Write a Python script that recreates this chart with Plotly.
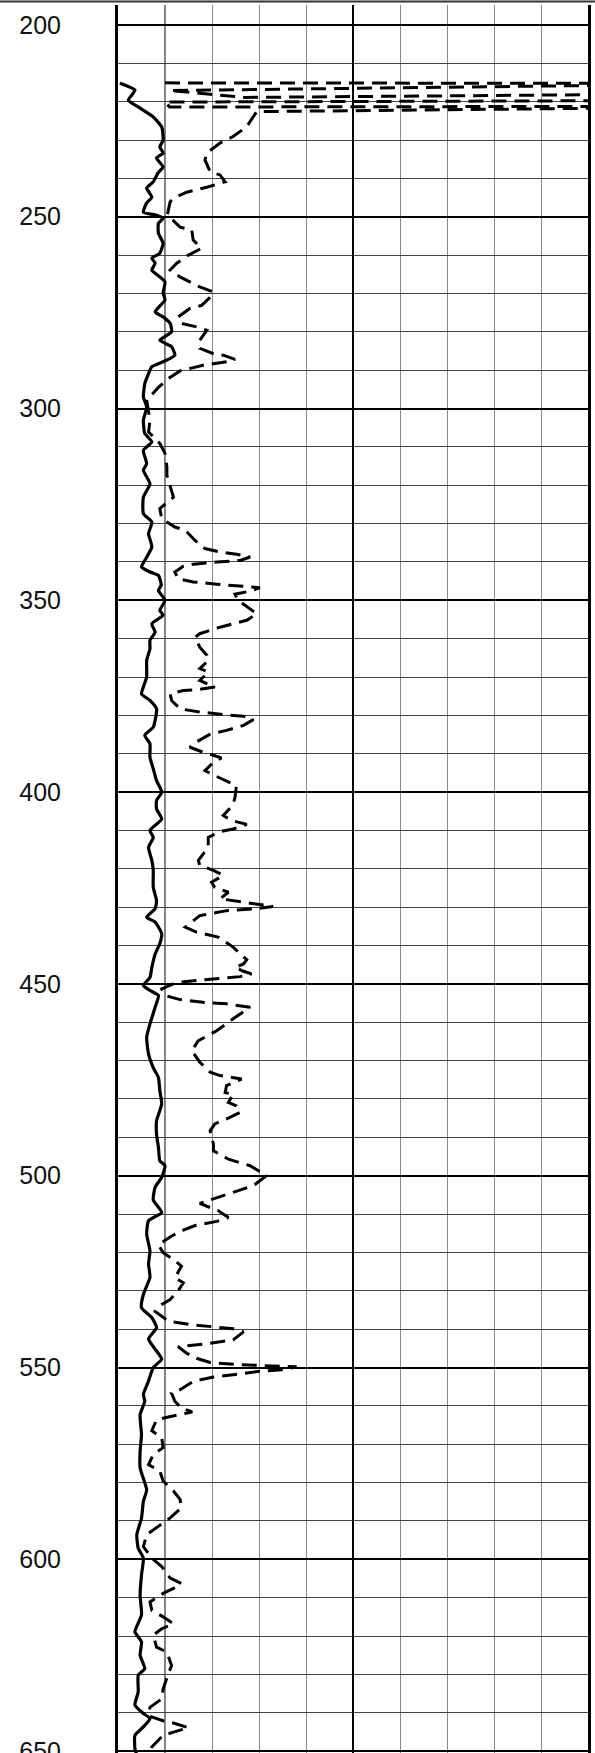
import plotly.graph_objects as go

# ---- Solid curve (depth, value in chart divisions 0-10) ----
solid_depth = [215.2, 217.0, 219.6, 221.7, 224.0, 226.6, 230.0, 231.8, 233.4, 234.7, 237.0, 238.6,
               240.9, 242.5, 244.9, 246.4, 248.8, 249.6, 250.4, 251.7, 254.3, 256.9, 259.5, 260.8,
               262.1, 263.9, 265.7, 267.0, 269.9, 271.7, 274.8, 276.1, 277.8, 280.0, 282.2, 283.9,
               286.1, 287.8, 289.1, 290.9, 293.5, 297.0, 299.6, 303.1, 306.5, 308.7, 310.9, 314.4,
               316.1, 319.6, 323.1, 327.4, 329.6, 332.6, 336.1, 339.6, 341.3, 342.6, 343.5, 346.0,
               347.4, 350.0, 352.6, 353.9, 356.1, 358.3, 360.4, 362.6, 365.7, 370.0, 372.6, 374.4,
               376.1, 378.3, 381.3, 383.1, 385.2, 387.4, 390.9, 393.9, 397.0, 400.0, 402.2, 404.4,
               407.0, 410.0, 411.8, 414.4, 417.8, 420.4, 424.8, 428.3, 430.4, 432.6, 433.9, 436.9,
               439.5, 442.2, 445.7, 448.3, 450.4, 451.7, 453.0, 456.1, 460.4, 463.9, 468.3, 471.8,
               474.4, 477.8, 481.3, 485.7, 489.2, 492.6, 496.1, 497.4, 500.4, 503.0, 506.3, 509.6,
               511.7, 515.2, 519.6, 523.0, 526.5, 530.9, 534.4, 537.0, 539.6, 542.6, 545.7, 547.8,
               550.0, 553.5, 557.0, 558.8, 562.3, 567.5, 571.9, 576.2, 581.9, 584.9, 589.3, 593.6,
               597.1, 599.7, 604.1, 609.3, 614.5, 618.9, 621.5, 625.0, 628.5, 630.2, 634.6, 638.0,
               640.2, 641.5, 643.7, 645.9, 649.3, 651.0]
solid_value = [0.04, 0.36, 0.22, 0.47, 0.75, 0.93, 0.96, 0.89, 0.96, 0.82, 0.96, 0.85,
               0.75, 0.61, 0.72, 0.61, 0.54, 0.82, 0.96, 0.86, 0.86, 0.96, 0.89, 0.72,
               0.79, 0.72, 0.89, 1.00, 0.96, 1.00, 0.79, 0.96, 1.11, 1.14, 0.89, 1.14,
               1.21, 0.96, 0.72, 0.65, 0.57, 0.54, 0.61, 0.54, 0.57, 0.72, 0.54, 0.61,
               0.54, 0.68, 0.54, 0.54, 0.72, 0.65, 0.72, 0.57, 0.50, 0.68, 0.86, 0.92,
               0.86, 1.00, 0.89, 0.96, 0.72, 0.79, 0.68, 0.68, 0.61, 0.61, 0.54, 0.50,
               0.68, 0.82, 0.79, 0.75, 0.57, 0.68, 0.68, 0.75, 0.82, 0.93, 0.82, 0.82,
               0.93, 0.68, 0.75, 0.65, 0.72, 0.75, 0.75, 0.82, 0.79, 0.61, 0.79, 0.93,
               0.89, 0.79, 0.72, 0.68, 0.54, 0.68, 0.86, 0.79, 0.68, 0.61, 0.65, 0.75,
               0.86, 0.89, 0.93, 0.82, 0.82, 0.86, 0.89, 1.00, 0.93, 0.79, 0.75, 0.93,
               0.65, 0.61, 0.68, 0.65, 0.68, 0.54, 0.50, 0.72, 0.82, 0.65, 0.82, 0.93,
               0.75, 0.65, 0.54, 0.57, 0.47, 0.50, 0.47, 0.47, 0.61, 0.54, 0.50, 0.40,
               0.43, 0.54, 0.50, 0.47, 0.50, 0.36, 0.50, 0.47, 0.57, 0.43, 0.43, 0.36,
               0.54, 0.68, 0.54, 0.36, 0.36, 0.40]

# ---- Dashed curve (depth, value in chart divisions 0-10; >10 is off scale) ----
dashed_depth = [215.1, 215.25, 215.5, 217.1, 218.9, 218.0, 219.7, 220.1, 221.4, 221.2, 221.5, 222.6,
                226.5, 229.1, 230.8, 233.4, 235.2, 238.3, 239.1, 240.9, 242.3, 243.6, 245.2, 246.1,
                249.5, 252.7, 253.5, 256.1, 258.2, 260.0, 262.1, 263.9, 265.7, 268.3, 269.6, 271.0,
                273.1, 273.9, 276.1, 277.8, 278.7, 279.6, 282.2, 284.3, 285.7, 286.1, 287.2, 287.8,
                288.7, 290.2, 292.2, 294.5, 297.8, 303.1, 306.1, 309.1, 311.7, 315.2, 317.4, 321.3,
                323.1, 326.1, 328.7, 330.9, 331.7, 334.4, 336.5, 337.4, 338.0, 338.7, 339.6, 340.0,
                340.6, 341.1, 342.6, 344.4, 345.2, 345.8, 346.3, 346.7, 347.6, 348.4, 350.0, 353.5,
                355.2, 357.0, 358.7, 359.6, 362.2, 364.3, 365.7, 367.8, 368.7, 370.9, 372.6, 373.3,
                373.5, 374.4, 376.1, 378.3, 379.1, 379.8, 380.2, 381.1, 382.6, 383.9, 384.9, 386.9,
                388.3, 389.6, 390.4, 391.1, 392.2, 394.4, 395.7, 397.4, 398.3, 401.3, 403.3, 406.1,
                407.4, 408.4, 409.6, 410.3, 411.8, 414.4, 417.8, 419.1, 420.4, 421.7, 423.5, 424.8,
                426.1, 427.8, 428.7, 429.1, 429.8, 430.4, 430.9, 432.2, 435.2, 436.5, 437.1, 437.8,
                438.7, 440.4, 441.7, 443.7, 444.8, 445.7, 446.7, 447.4, 448.1, 448.7, 449.1, 449.6,
                451.3, 453.0, 454.1, 454.8, 455.2, 456.1, 459.1, 462.2, 464.8, 467.4, 470.4, 473.0,
                473.9, 474.8, 476.5, 478.3, 478.7, 480.9, 481.8, 483.5, 484.8, 486.5, 488.3, 491.7,
                493.5, 495.7, 497.4, 500.0, 502.6, 504.3, 505.2, 507.2, 508.3, 509.1, 510.9, 511.9,
                513.0, 514.2, 515.7, 518.0, 520.1, 521.8, 523.6, 526.6, 527.9, 530.0, 532.3, 534.1,
                535.4, 537.9, 538.8, 539.4, 539.9, 540.7, 542.8, 543.7, 544.6, 546.3, 547.6, 548.7,
                549.2, 549.5, 549.8, 550.6, 551.0, 551.9, 552.5, 553.6, 555.8, 556.7, 558.8, 560.6,
                561.6, 562.9, 563.6, 566.5, 568.3, 570.9, 572.7, 575.3, 577.0, 579.6, 582.2, 584.4,
                586.6, 589.2, 591.4, 593.6, 596.7, 599.7, 601.9, 604.9, 606.3, 607.6, 608.9, 611.1,
                613.3, 615.0, 616.8, 618.1, 619.8, 622.9, 624.2, 627.7, 629.9, 633.8, 636.4, 638.6,
                640.8, 642.1, 642.8, 643.9, 644.8, 645.9, 648.9, 650.2, 651.0]
dashed_value = [1.00, 12.0, 12.0, 1.10, 2.70, 12.0, 12.0, 1.00, 1.10, 12.0, 12.0, 2.95,
                2.74, 2.45, 2.17, 1.89, 1.85, 1.96, 2.17, 2.28, 1.89, 1.46, 1.18, 1.11,
                1.05, 1.32, 1.57, 1.60, 1.78, 1.50, 1.25, 1.11, 1.32, 1.74, 2.03, 1.96,
                1.78, 1.53, 1.28, 1.35, 1.67, 1.89, 1.74, 1.74, 2.03, 2.24, 2.49, 2.31,
                1.81, 1.32, 1.07, 0.86, 0.61, 0.68, 0.65, 0.89, 1.00, 1.04, 1.04, 1.14,
                1.18, 0.89, 0.93, 1.21, 1.43, 1.64, 1.85, 2.17, 2.52, 2.81, 2.60, 2.10,
                1.60, 1.39, 1.21, 1.28, 1.60, 2.10, 2.60, 3.02, 2.81, 2.49, 2.56, 2.95,
                2.74, 2.17, 1.74, 1.64, 1.74, 1.89, 1.92, 1.74, 1.92, 1.74, 2.06, 1.67,
                1.39, 1.11, 1.14, 1.32, 1.74, 2.24, 2.67, 2.88, 2.67, 2.31, 1.96, 1.67,
                1.53, 1.81, 2.03, 2.20, 2.03, 1.85, 2.06, 2.35, 2.52, 2.49, 2.45, 2.24,
                2.42, 2.74, 2.45, 2.17, 1.92, 1.92, 1.71, 1.74, 2.03, 2.24, 1.99, 2.06,
                2.35, 2.17, 2.67, 2.95, 3.30, 2.95, 2.31, 1.74, 1.43, 1.67, 1.89, 2.13,
                2.24, 2.45, 2.56, 2.74, 2.67, 2.49, 2.67, 2.84, 2.60, 2.10, 1.67, 1.25,
                0.93, 1.00, 1.32, 1.81, 2.31, 2.81, 2.45, 2.10, 1.71, 1.57, 1.74, 1.96,
                2.17, 2.63, 2.31, 2.28, 2.45, 2.35, 2.52, 2.60, 2.38, 2.06, 1.96, 2.03,
                2.03, 2.35, 2.81, 3.16, 2.88, 2.45, 2.24, 1.74, 1.96, 2.13, 2.35, 2.10,
                1.64, 1.39, 1.14, 0.86, 0.96, 1.18, 1.35, 1.21, 1.39, 1.28, 1.11, 0.86,
                0.79, 1.07, 1.53, 2.03, 2.45, 2.67, 2.45, 1.96, 1.28, 1.46, 1.67, 1.96,
                2.52, 3.09, 3.80, 3.52, 3.02, 2.45, 2.03, 1.60, 1.32, 1.14, 1.21, 1.35,
                1.58, 1.07, 0.82, 0.72, 0.93, 0.96, 0.75, 0.65, 0.89, 0.96, 1.18, 1.32,
                1.35, 1.11, 0.86, 0.61, 0.54, 0.72, 0.93, 1.11, 1.35, 1.18, 0.96, 0.68,
                0.72, 0.96, 1.18, 0.93, 0.75, 0.82, 1.04, 1.14, 1.07, 0.96, 0.93, 0.68,
                0.65, 0.96, 1.21, 1.50, 1.25, 0.96, 0.72, 0.65, 0.62]

depth_ticks = [200, 250, 300, 350, 400, 450, 500, 550, 600, 650]
depth_range = [650.5, 194.8]
value_range = [0, 10]

fig = go.Figure()
fig.add_trace(go.Scatter(x=solid_value, y=solid_depth, mode="lines",
                         line=dict(color="black", width=3.2, shape="spline", smoothing=0.5),
                         hoverinfo="skip", showlegend=False))
fig.add_trace(go.Scatter(x=dashed_value, y=dashed_depth, mode="lines",
                         line=dict(color="black", width=3.0, dash="15px,8px"),
                         hoverinfo="skip", showlegend=False))

# dark line at first division
fig.add_shape(type="line", xref="x", yref="paper", x0=1, x1=1, y0=0, y1=1,
              line=dict(color="black", width=1), layer="below")
# top border
fig.add_shape(type="line", xref="paper", yref="paper", x0=-0.26, x1=1.02,
              y0=1.002, y1=1.002, line=dict(color="#333", width=2))

fig.update_layout(
    template="none",
    width=595, height=1753,
    margin=dict(l=118, r=7, t=5, b=0, autoexpand=False),
    paper_bgcolor="white", plot_bgcolor="white",
    showlegend=False,
    xaxis=dict(range=value_range, showticklabels=False, ticks="", automargin=False,
               dtick=5, tick0=0, showgrid=True, gridcolor="black", gridwidth=2,
               minor=dict(dtick=1, showgrid=True, gridcolor="#8a8a8a", gridwidth=1),
               zeroline=False, showline=False, fixedrange=True),
    yaxis=dict(range=depth_range, tickmode="array", tickvals=depth_ticks,
               ticktext=[str(t) for t in depth_ticks], automargin=False,
               tickfont=dict(family="Liberation Sans, Arial", size=25, color="#111"),
               ticks="", ticklabelstandoff=49, ticklabeloverflow="allow",
               showgrid=True, gridcolor="black", gridwidth=2,
               minor=dict(dtick=10, tick0=200, showgrid=True, gridcolor="#444", gridwidth=1),
               zeroline=False, showline=True, linecolor="black", linewidth=3, mirror=True,
               fixedrange=True),
)

fig.write_html("out.html", config={"displayModeBar": False},
               post_script="document.body.style.margin='0';document.body.style.overflow='hidden';")
